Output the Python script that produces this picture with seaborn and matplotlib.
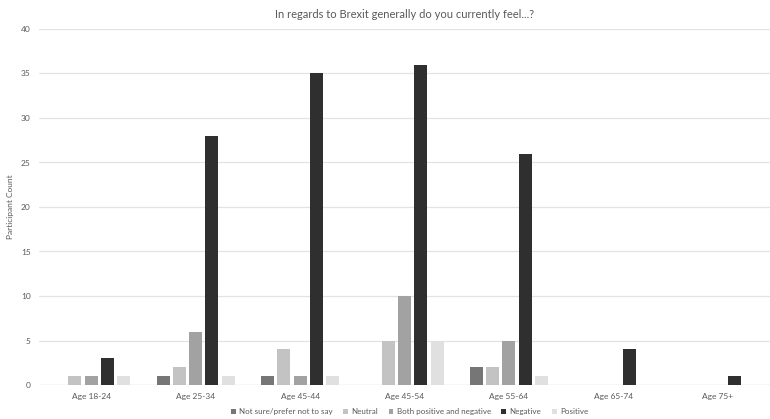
import matplotlib
matplotlib.use("Agg")
import matplotlib.pyplot as plt
import seaborn as sns
import pandas as pd

categories = ["Age 18-24", "Age 25-34", "Age 45-44", "Age 45-54", "Age 55-64", "Age 65-74", "Age 75+"]
series = ["Not sure/prefer not to say", "Neutral", "Both positive and negative", "Negative", "Positive"]
not_sure = [0, 1, 1, 0, 2, 0, 0]
neutral = [1, 2, 4, 5, 2, 0, 0]
both = [1, 6, 1, 10, 5, 0, 0]
negative = [3, 28, 35, 36, 26, 4, 1]
positive = [1, 1, 1, 5, 1, 0, 0]
colors = ["#767676", "#c3c3c3", "#a2a2a2", "#2f2f2f", "#e0e0e0"]

rows = []
for s, vals in zip(series, [not_sure, neutral, both, negative, positive]):
    for c, v in zip(categories, vals):
        rows.append({"Age": c, "Feeling": s, "Count": v})
df = pd.DataFrame(rows)

sns.set_theme(style="white")
plt.rcParams["font.family"] = ["Lato", "DejaVu Sans"]

fig = plt.figure(figsize=(7.7, 4.19), dpi=100)
ax = fig.add_axes([39 / 770, 34 / 419, 731 / 770, 356 / 419])
sns.barplot(data=df, x="Age", y="Count", hue="Feeling", order=categories,
            hue_order=series, palette=colors, width=0.78, gap=0.2,
            saturation=1, linewidth=0, edgecolor="none", ax=ax, legend=True)

ax.set_ylim(0, 40)
ax.set_xlim(-0.5, len(categories) - 0.5)
ax.set_yticks(range(0, 41, 5))
ax.yaxis.grid(True, color="#e3e3e3", linewidth=0.9)
ax.set_axisbelow(True)
for sp in ax.spines.values():
    sp.set_visible(False)
ax.axhline(0, color="#d9d9d9", linewidth=0.9, zorder=0.5)
ax.tick_params(axis="both", length=0, labelsize=6, colors="#595959", pad=6)
ax.set_xlabel("")
ax.set_ylabel("Participant Count", fontsize=6, color="#595959", labelpad=5)
ax.set_title("In regards to Brexit generally do you currently feel...?",
             fontsize=8, color="#595959", pad=8)

handles, labels = ax.get_legend_handles_labels()
ax.legend(handles, labels, loc="center", bbox_to_anchor=(0.507, -0.075),
          ncol=5, frameon=False, fontsize=5.8, labelcolor="#595959",
          handlelength=0.6, handleheight=0.6, handletextpad=0.4, columnspacing=1.3,
          borderaxespad=0, borderpad=0)

fig.savefig("out.png", dpi=100)
